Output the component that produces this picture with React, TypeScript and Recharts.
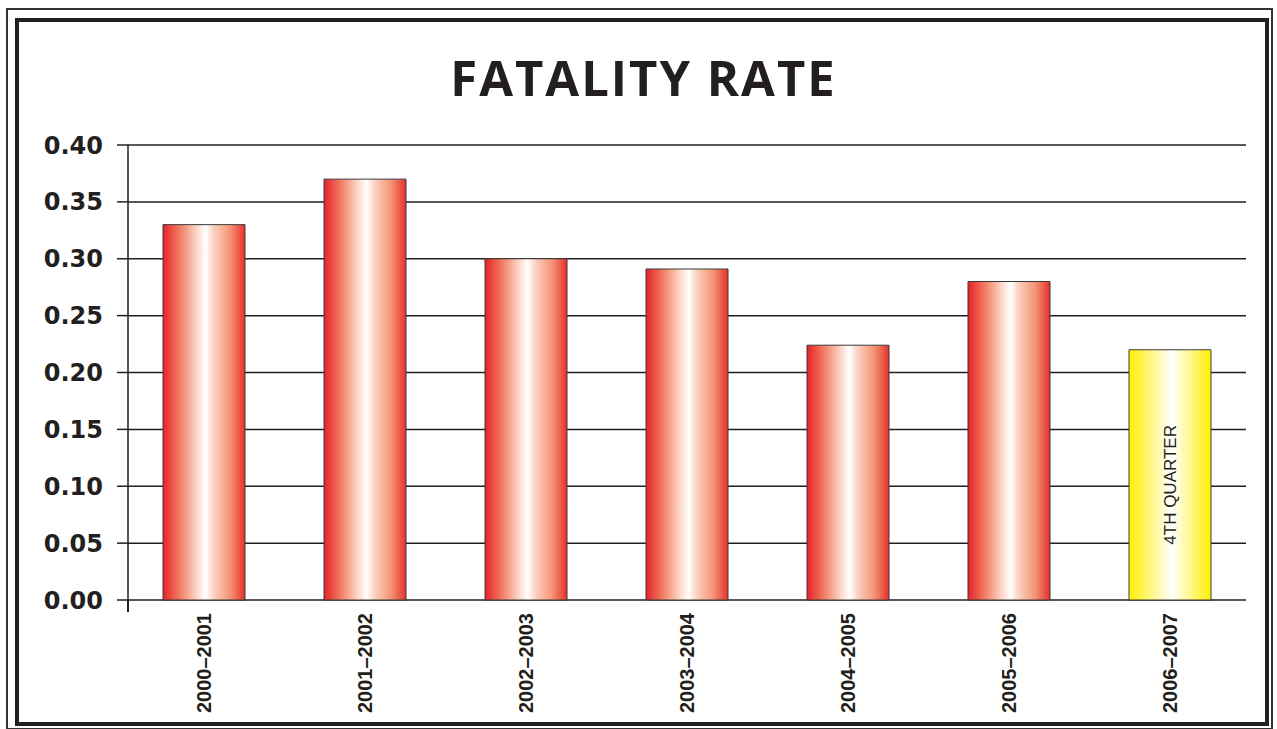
import React from "react";
import {
  BarChart,
  Bar,
  XAxis,
  YAxis,
  CartesianGrid,
  Cell,
  LabelList,
} from "recharts";

const seasons = [
  "2000–2001",
  "2001–2002",
  "2002–2003",
  "2003–2004",
  "2004–2005",
  "2005–2006",
  "2006–2007",
];
const rates = [0.33, 0.37, 0.3, 0.291, 0.224, 0.28, 0.22];
const notes = ["", "", "", "", "", "", "4TH QUARTER"];
const yTicks = [0, 0.05, 0.1, 0.15, 0.2, 0.25, 0.3, 0.35, 0.4];

const data = seasons.map((season, i) => ({
  season,
  rate: rates[i],
  note: notes[i],
}));

const ink = "#231f20";

const SeasonTick = (props: any) => {
  const { x, y, payload } = props;
  return (
    <text
      transform={`translate(${x},${y + 5}) rotate(-90)`}
      textAnchor="end"
      dy="0.36em"
      fontFamily="'Liberation Sans', Arial, sans-serif"
      fontWeight={700}
      fontSize={20}
      fill={ink}
    >
      {payload.value}
    </text>
  );
};

const NoteLabel = (props: any) => {
  const { x, y, width, height, value } = props;
  if (!value) return null;
  const cx = x + width / 2;
  const cy = y + height / 2 + 10;
  return (
    <text
      transform={`translate(${cx},${cy}) rotate(-90)`}
      textAnchor="middle"
      dy="0.36em"
      fontFamily="'Liberation Sans', Arial, sans-serif"
      fontSize={17}
      fill={ink}
    >
      {value}
    </text>
  );
};

const App = () => {
  return (
    <div
      style={{
        position: "absolute",
        left: 0,
        top: 0,
        width: 1277,
        height: 729,
        background: "#fff",
        overflow: "hidden",
      }}
    >
      {/* double frame */}
      <div
        style={{
          position: "absolute",
          left: 6,
          top: 8,
          width: 1267,
          height: 722,
          border: "2px solid #333",
          boxSizing: "border-box",
        }}
      />
      <div
        style={{
          position: "absolute",
          left: 15,
          top: 18,
          width: 1254,
          height: 708,
          border: "4px solid " + ink,
          boxSizing: "border-box",
        }}
      />

      <div
        style={{
          position: "absolute",
          left: 0,
          top: 53,
          width: 1287,
          textAlign: "center",
          fontFamily: "'Open Sans', 'Liberation Sans', sans-serif",
          fontWeight: 700,
          fontSize: 49,
          lineHeight: "49px",
          letterSpacing: 2,
          color: ink,
        }}
      >
        FATALITY RATE
      </div>

      <div style={{ position: "absolute", left: 0, top: 0 }}>
        <BarChart
          width={1277}
          height={729}
          data={data}
          margin={{ top: 145, right: 31, bottom: 0, left: 0 }}
        >
          <defs>
            <linearGradient id="redGrad" x1="0" y1="0" x2="1" y2="0">
              <stop offset="0%" stopColor="#e6222a" />
              <stop offset="20%" stopColor="#f07a60" />
              <stop offset="40%" stopColor="#fcd2c2" />
              <stop offset="52%" stopColor="#ffffff" />
              <stop offset="62%" stopColor="#fcd0bf" />
              <stop offset="82%" stopColor="#f39474" />
              <stop offset="100%" stopColor="#e6302c" />
            </linearGradient>
            <linearGradient id="yellowGrad" x1="0" y1="0" x2="1" y2="0">
              <stop offset="0%" stopColor="#fff000" />
              <stop offset="25%" stopColor="#fff67a" />
              <stop offset="52%" stopColor="#ffffff" />
              <stop offset="78%" stopColor="#fff67a" />
              <stop offset="100%" stopColor="#fff000" />
            </linearGradient>
          </defs>
          <CartesianGrid
            vertical={false}
            stroke={ink}
            strokeWidth={1.5}
            strokeOpacity={1}
            fill="none"
          />
          <XAxis
            dataKey="season"
            height={129}
            axisLine={false}
            tickLine={false}
            interval={0}
            padding={{ left: -5, right: -4 }}
            tick={<SeasonTick />}
          />
          <YAxis
            width={128}
            domain={[0, 0.4]}
            ticks={yTicks}
            interval={0}
            tickFormatter={(v: number) => v.toFixed(2)}
            axisLine={{ stroke: ink, strokeWidth: 1.5 }}
            tickLine={{ stroke: ink, strokeWidth: 1.5 }}
            tickSize={11}
            tickMargin={14}
            tick={{
              fill: ink,
              fontFamily: "'DejaVu Sans', sans-serif",
              fontWeight: 700,
              fontSize: 24,
            }}
          />
          <YAxis
            yAxisId="r"
            orientation="right"
            width={0}
            domain={[0, 0.4]}
            tick={false}
            tickLine={false}
            axisLine={{ stroke: ink, strokeWidth: 1.5 }}
          />
          <Bar
            dataKey="rate"
            barSize={82}
            stroke="#3a3a3a"
            strokeWidth={1}
            isAnimationActive={false}
          >
            {data.map((d, i) => (
              <Cell
                key={d.season}
                fill={d.note ? "url(#yellowGrad)" : "url(#redGrad)"}
              />
            ))}
            <LabelList dataKey="note" content={<NoteLabel />} />
          </Bar>
        </BarChart>
      </div>

      {/* axis line runs a little past the zero tick */}
      <div
        style={{
          position: "absolute",
          left: 127.25,
          top: 600,
          width: 1.5,
          height: 12,
          background: ink,
        }}
      />
    </div>
  );
};

export default App;
